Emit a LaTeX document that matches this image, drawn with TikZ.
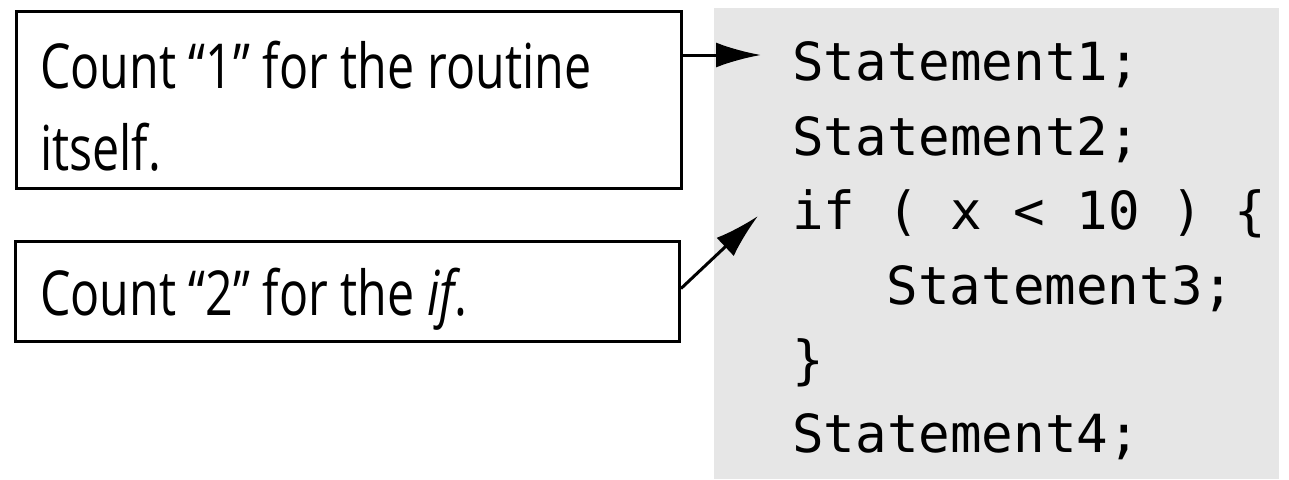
\documentclass[tikz,border=0pt]{standalone}
\usepackage{fontspec}
\setmainfont{Open Sans}[FakeStretch=0.78]
\setmonofont{DejaVu Sans Mono}
\usetikzlibrary{arrows.meta}
\definecolor{codebg}{RGB}{230,230,230}
\tikzset{
  callbox/.style={draw=black, line width=3pt, fill=white, inner sep=0pt, anchor=north west},
  calltext/.style={anchor=base west, inner sep=0pt, font=\fontsize{62}{70}\selectfont},
  codeline/.style={anchor=base west, inner sep=0pt, font=\ttfamily\fontsize{52.5}{60}\selectfont},
  pointer/.style={line width=3pt, -{Latex[length=45pt,width=25pt]}}
}
\begin{document}
\begin{tikzpicture}[x=1pt,y=-1pt]
\useasboundingbox (0,0) rectangle (1289,479);
% code panel
\node[fill=codebg, inner sep=0pt, minimum width=565, minimum height=471, anchor=north west] (panel) at (714,8) {};
% callout boxes
\node[callbox, minimum width=665, minimum height=177] (box1) at (15,10) {};
\node[callbox, minimum width=664, minimum height=100] (box2) at (14,240) {};
\node[calltext] (t1a) at (40,88) {Count “1” for the routine};
\node[calltext] (t1b) at (40,170) {itself.};
\node[calltext] (t2) at (40,315) {Count “2” for the \textit{if}.};
% code lines
\node[codeline] (c1) at (792,80) {Statement1;};
\node[codeline] (c2) at (792,155) {Statement2;};
\node[codeline] (c3) at (792,229) {if ( x < 10 ) \{};
\node[codeline] (c4) at (886.5,304) {Statement3;};
\node[codeline] (c5) at (792,378) {\}};
\node[codeline] (c6) at (792,452) {Statement4;};
% arrow targets
\coordinate (a1) at (761,55);
\coordinate (a2) at (758,216);
\draw[pointer] (box1.east |- a1) -- (a1);
\draw[pointer] ([yshift=3pt]box2.east) -- (a2);
\end{tikzpicture}
\end{document}
